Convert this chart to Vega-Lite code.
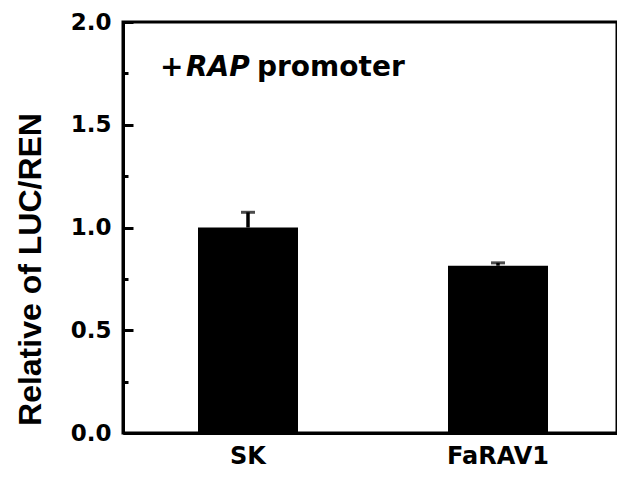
{
  "$schema": "https://vega.github.io/schema/vega-lite/v6.json",
  "width": 494,
  "height": 411,
  "autosize": {"type": "none"},
  "padding": {"left": 123, "top": 22, "right": 0, "bottom": 44},
  "background": "white",
  "config": {
    "view": {"stroke": "black", "strokeWidth": 3},
    "font": "DejaVu Sans",
    "axis": {"grid": false, "domainColor": "black", "domainWidth": 3, "labelColor": "black", "tickColor": "black", "titleColor": "black"}
  },
  "datasets": {
    "bars": [
      {"group": "SK", "value": 1.0, "upper": 1.074},
      {"group": "FaRAV1", "value": 0.814, "upper": 0.828}
    ],
    "caps": [
      {"group": "SK", "value": 1.074},
      {"group": "FaRAV1", "value": 0.828}
    ],
    "note": [
      {"group": "SK", "value": 1.735, "t1": "+", "t2": "RAP", "t3": "promoter"}
    ]
  },
  "encoding": {
    "x": {"field": "group", "type": "nominal", "sort": ["SK", "FaRAV1"],
      "scale": {"paddingInner": 0, "paddingOuter": 0, "range": [0, 500]},
      "axis": {"orient": "bottom", "title": null, "ticks": false, "labelAngle": 0, "labelFontSize": 24, "labelFontWeight": "bold", "labelPadding": 11}},
    "y": {"field": "value", "type": "quantitative", "title": "Relative of LUC/REN",
      "scale": {"domain": [0, 2]},
      "axis": {
        "values": [0, 0.25, 0.5, 0.75, 1.0, 1.25, 1.5, 1.75, 2.0],
        "labelExpr": "round(datum.value*2) === datum.value*2 ? format(datum.value, '.1f') : ''",
        "tickSize": {"condition": {"test": "round(datum.value*2) !== datum.value*2", "value": -5}, "value": -10},
        "tickWidth": 3,
        "labelFontSize": 23, "labelFontWeight": "bold", "labelPadding": 22,
        "titleFont": "Liberation Sans", "titleFontSize": 32, "titleFontWeight": "bold",
        "titleAngle": -90, "titleAlign": "center", "titleBaseline": "alphabetic",
        "titleX": -83, "titleY": 247
      }}
  },
  "layer": [
    {
      "data": {"name": "bars"},
      "mark": {"type": "bar", "color": "black", "width": {"band": 0.4}}
    },
    {
      "data": {"name": "bars"},
      "mark": {"type": "rule", "color": "black", "strokeWidth": 3.5},
      "encoding": {"y2": {"field": "upper"}}
    },
    {
      "data": {"name": "caps"},
      "mark": {"type": "tick", "color": "black", "orient": "horizontal", "size": 14, "thickness": 3}
    },
    {
      "data": {"name": "note"},
      "mark": {"type": "text", "align": "left", "baseline": "alphabetic", "fontSize": 28, "fontWeight": "bold", "color": "black", "dx": -88},
      "encoding": {"text": {"field": "t1"}}
    },
    {
      "data": {"name": "note"},
      "mark": {"type": "text", "align": "left", "baseline": "alphabetic", "fontSize": 28, "fontWeight": "bold", "fontStyle": "italic", "color": "black", "dx": -62},
      "encoding": {"text": {"field": "t2"}}
    },
    {
      "data": {"name": "note"},
      "mark": {"type": "text", "align": "left", "baseline": "alphabetic", "fontSize": 28, "fontWeight": "bold", "color": "black", "dx": 9},
      "encoding": {"text": {"field": "t3"}}
    }
  ]
}
